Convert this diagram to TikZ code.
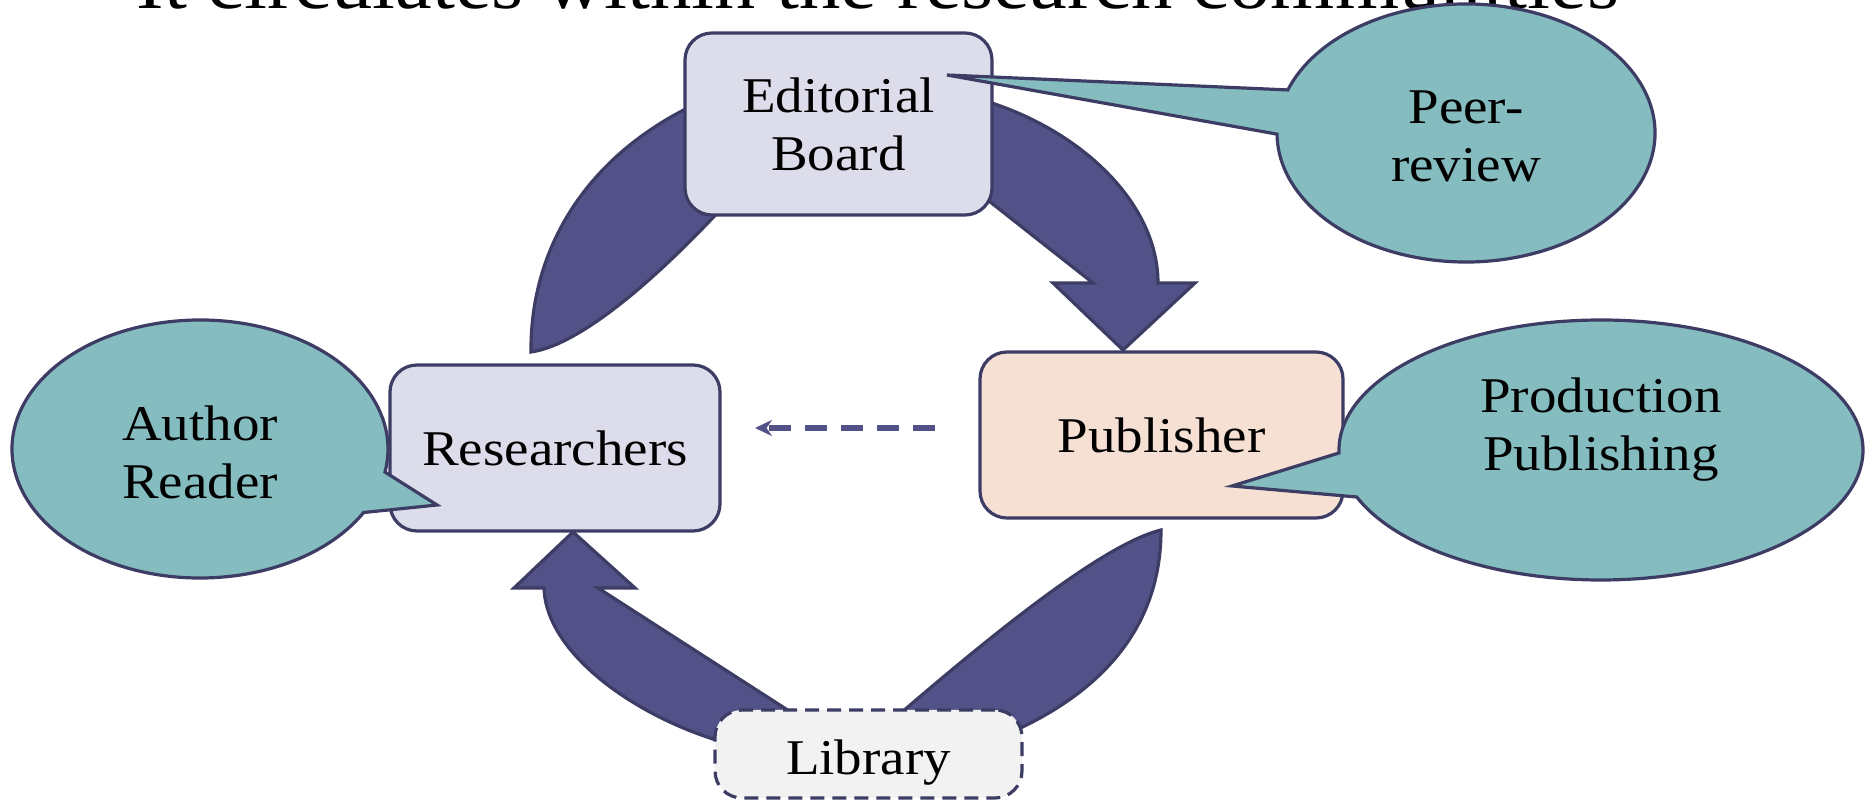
\documentclass[tikz,border=0pt]{standalone}
\usepackage{fontspec}
\setmainfont{Liberation Serif}[FakeStretch=1.1]
\usetikzlibrary{arrows.meta}
\definecolor{edgec}{RGB}{60,60,100}
\definecolor{arrowc}{RGB}{82,82,136}
\definecolor{boxc}{RGB}{220,220,234}
\definecolor{pubc}{RGB}{246,224,212}
\definecolor{libc}{RGB}{242,242,242}
\definecolor{bubblec}{RGB}{132,188,192}
\tikzset{
  box/.style={draw=edgec, line width=1.6pt, rounded corners=13.5pt, inner sep=0pt,
    align=center, font=\fontsize{25}{29}\selectfont},
  cyclearrow/.style={fill=arrowc, draw=edgec, line width=1.6pt, line join=miter},
  bubble/.style={fill=bubblec, draw=edgec, line width=1.6pt, line join=miter},
  bubbletext/.style={align=center, inner sep=0pt, font=\fontsize{25}{29}\selectfont},
  dasharrow/.style={draw=arrowc, line width=2.6pt, dash pattern=on 11pt off 7pt,
    -{Stealth[length=8.5pt,width=8pt]}},
}
\begin{document}
\begin{tikzpicture}[x=0.5pt,y=-0.5pt]
\useasboundingbox (0,0) rectangle (1865,801);
\fill[white] (0,0) rectangle (1865,801);

% title (cut off at top)
\node[anchor=base, inner sep=0pt, font=\fontsize{37.5}{40}\selectfont] (title) at (878,9)
  {It circulates within the research communities};

% cycle arrows
\draw[cyclearrow] (531,352) .. controls (530,250) and (585,155) .. (700,102)
  -- (760,80) -- (745,185) -- (722,208) .. controls (655,280) and (580,345) .. (531,352) -- cycle;
\draw[cyclearrow] (975,98) .. controls (1075,125) and (1158,200) .. (1158,283)
  -- (1195,283) -- (1123,350) -- (1053,283) -- (1093,283) -- (975,190) -- cycle;
\draw[cyclearrow] (1161,530) .. controls (1161,620) and (1110,690) .. (1005,735)
  -- (950,770) -- (895,718) .. controls (980,645) and (1100,545) .. (1161,530) -- cycle;
\draw[cyclearrow] (598,588) -- (635,588) -- (573,532) -- (514,588) -- (544,588)
  .. controls (546,655) and (640,720) .. (730,744) -- (780,760) -- (800,718) -- cycle;

% boxes
\node[box, fill=boxc, minimum width=153.5pt, minimum height=91pt] (board) at (838.5,124) {Editorial\\Board};
\node[box, fill=boxc, minimum width=165pt, minimum height=83pt] (res) at (555,448) {Researchers};
\node[box, fill=pubc, minimum width=181.5pt, minimum height=83pt] (pub) at (1161.5,435) {Publisher};
\node[box, fill=libc, dash pattern=on 7pt off 4pt, minimum width=153.5pt, minimum height=44pt,
  text height=21pt, text depth=0pt] (lib) at (868.5,754) {Library};

% dashed arrow
\coordinate (dstart) at (935,428);
\coordinate (dend) at (755,428);
\draw[dasharrow] (dstart) -- (dend);

% callouts
\draw[bubble] (1466,133) ++(199.5:189 and 129)
  arc[start angle=199.5, end angle=539.5, x radius=189, y radius=129] -- (947,75) -- cycle;
\draw[bubble] (200,449) ++(29.5:188 and 129)
  arc[start angle=29.5, end angle=370.3, x radius=188, y radius=129] -- (437,505) -- cycle;
\draw[bubble] (1601,450) ++(178.7:262 and 130)
  arc[start angle=178.7, end angle=518.8, x radius=262, y radius=130] -- (1232,486) -- cycle;

\node[bubbletext] (peer) at (1466,136) {Peer-\\review};
\node[bubbletext] (author) at (200,452) {Author\\Reader};
\node[bubbletext] (prod) at (1601,430) {Production\\Publishing};
\end{tikzpicture}
\end{document}
